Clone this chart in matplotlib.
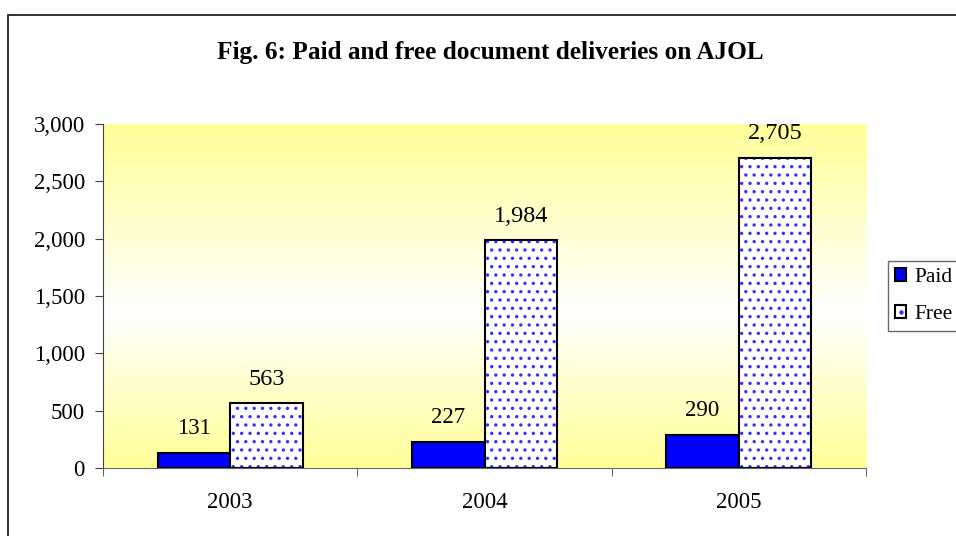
import numpy as np
import matplotlib.pyplot as plt
from matplotlib.patches import Rectangle, Patch
from matplotlib.lines import Line2D
from matplotlib.legend_handler import HandlerTuple
from matplotlib.colors import LinearSegmentedColormap
from matplotlib.ticker import FuncFormatter

years = ['2003', '2004', '2005']
paid = [131, 227, 290]
free = [563, 1984, 2705]

plt.rcParams['font.family'] = 'Liberation Serif'
plt.rcParams['hatch.linewidth'] = 1.2

fig = plt.figure(figsize=(9.56, 5.36), dpi=100)
ax = fig.add_axes([0.1077, 0.1269, 0.7982, 0.6418])

# outer chart frame (runs off the right/bottom edge in the original)
fig.patches.append(Rectangle((8 / 956, -0.05), 1.0, 1 - 15 / 536 + 0.05,
                             transform=fig.transFigure, fill=False,
                             edgecolor='#222222', linewidth=1.3))

# yellow-white-yellow gradient behind the plot
grad = LinearSegmentedColormap.from_list(
    'yw', [(0.0, '#ffff99'), (0.55, '#ffffff'), (1.0, '#ffff99')])
ax.imshow(np.linspace(0, 1, 256).reshape(-1, 1), cmap=grad, aspect='auto',
          extent=[-0.5, 2.5, 0, 3000], origin='upper', zorder=0)

x = np.arange(len(years))
w = 0.285
ax.bar(x - w / 2, paid, w, color='#0000ff', edgecolor='black', linewidth=1.5,
       zorder=2)
ax.bar(x + w / 2, free, w, color='white', edgecolor='#3333ff', hatch='..',
       linewidth=0, zorder=2)
ax.bar(x + w / 2, free, w, color='none', edgecolor='black', linewidth=1.5,
       zorder=3)

for i in range(len(years)):
    ax.text(x[i] - w / 2, paid[i] + 120, f'{paid[i]:,}', ha='center',
            va='bottom', fontsize=16.5)
    ax.text(x[i] + w / 2, free[i] + 120, f'{free[i]:,}', ha='center',
            va='bottom', fontsize=17.5)

ax.set_xlim(-0.5, 2.5)
ax.set_ylim(0, 3000)
ax.set_yticks(range(0, 3001, 500))
ax.yaxis.set_major_formatter(FuncFormatter(lambda v, p: f'{int(v):,}'))
ax.set_xticks(x)
ax.set_xticklabels(years)
ax.set_xticks([-0.5, 0.5, 1.5, 2.5], minor=True)
ax.tick_params(axis='x', which='major', length=0, pad=17, labelsize=16.5)
ax.tick_params(axis='x', which='minor', length=6, direction='out', color='#444444')
ax.tick_params(axis='y', length=6, direction='out', labelsize=16.5, pad=7, color='#444444')

for s in ['top', 'right']:
    ax.spines[s].set_visible(False)
ax.spines['left'].set_color('#444444')
ax.spines['bottom'].set_color('#666666')

fig.text(0.513, 0.902, 'Fig. 6: Paid and free document deliveries on AJOL',
         ha='center', va='center', fontsize=18.2, fontweight='bold')

h_paid = Patch(facecolor='#0000ff', edgecolor='black', linewidth=1.5)
h_free = (Patch(facecolor='white', edgecolor='black', linewidth=1.5),
          Line2D([], [], marker='o', ms=2.2, color='#3333ff', ls=''))
leg = ax.legend([h_paid, h_free], ['Paid', 'Free'],
                handler_map={tuple: HandlerTuple(ndivide=1)},
                loc='center left', bbox_to_anchor=(1.029, 0.5), fontsize=15.5,
                frameon=True, fancybox=False, edgecolor='#444444',
                handlelength=0.55, handleheight=0.55, handletextpad=0.35,
                labelspacing=0.85, borderpad=0.3, borderaxespad=0.0)
leg.get_frame().set_linewidth(1.0)

fig.savefig('out.png', dpi=100)
